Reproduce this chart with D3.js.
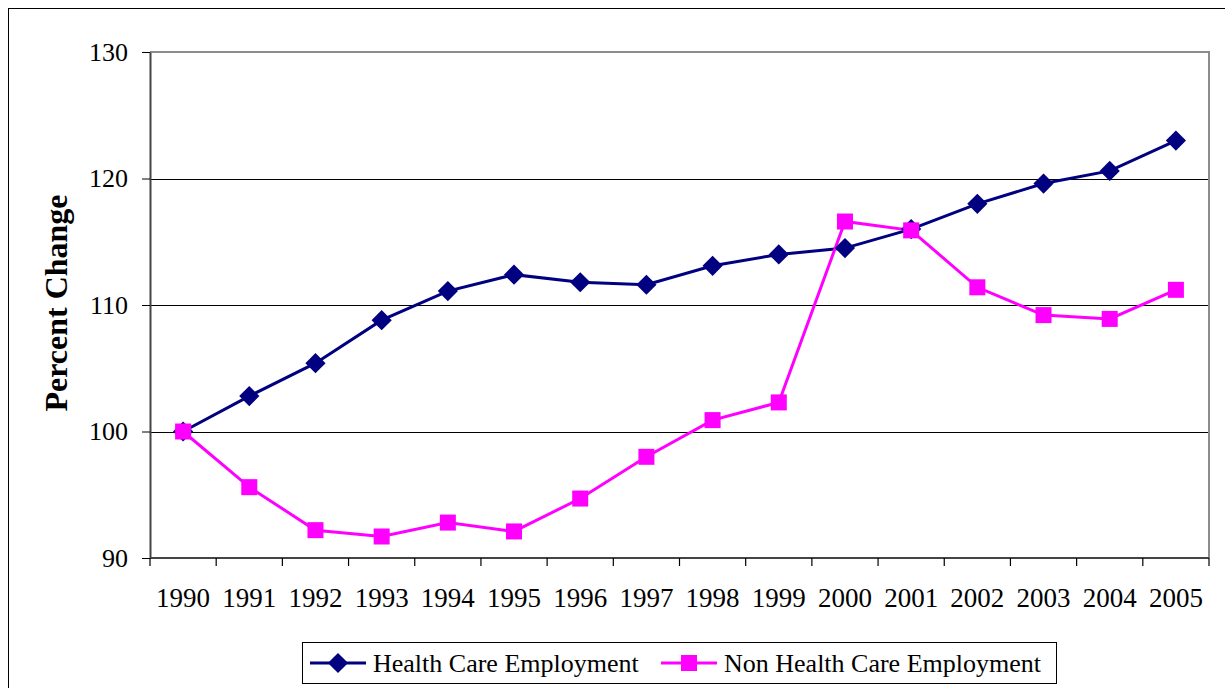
<!DOCTYPE html>
<html>
<head>
<meta charset="utf-8">
<script src="https://cdn.jsdelivr.net/npm/d3@7"></script>
<style>
  body { margin: 0; background: #fff; }
  text { font-family: "Liberation Serif", "Times New Roman", Times, serif; }
</style>
</head>
<body>
<svg id="chart" width="1225" height="688"></svg>
<script>
const years = ['1990', '1991', '1992', '1993', '1994', '1995', '1996', '1997',
  '1998', '1999', '2000', '2001', '2002', '2003', '2004', '2005'];
const healthCare = [100, 102.8, 105.4, 108.8, 111.1, 112.4, 111.8, 111.6,
  113.1, 114.0, 114.5, 116.0, 118.0, 119.6, 120.6, 123.0];
const nonHealthCare = [100, 95.6, 92.2, 91.7, 92.8, 92.1, 94.7, 98.0,
  100.9, 102.3, 116.6, 115.9, 111.4, 109.2, 108.9, 111.2];
const yTicks = [90, 100, 110, 120, 130];
const seriesNames = ['Health Care Employment', 'Non Health Care Employment'];

const FONT = 'Liberation Serif, Times New Roman, serif';
const margin = { top: 52, right: 16, bottom: 130, left: 150 };
const width = 1225 - margin.left - margin.right;
const height = 688 - margin.top - margin.bottom;

const svg = d3.select('#chart');

// outer frame (runs off the right and bottom edges)
svg.append('rect')
  .attr('x', 8.5).attr('y', 8.5)
  .attr('width', 1240).attr('height', 700)
  .attr('fill', 'none').attr('stroke', '#000').attr('stroke-width', 1);

const g = svg.append('g').attr('transform', `translate(${margin.left}, ${margin.top})`);

const x = d3.scaleBand().domain(years).range([0, width]);
const y = d3.scaleLinear().domain([90, 130]).range([height, 0]);

// gridlines
g.append('g')
  .selectAll('line')
  .data(yTicks.filter(d => d > 90 && d < 130))
  .enter()
  .append('line')
  .attr('x1', 0).attr('x2', width)
  .attr('y1', d => Math.round(y(d)) + 0.5).attr('y2', d => Math.round(y(d)) + 0.5)
  .attr('stroke', '#000').attr('stroke-width', 1);

// plot border (top / right gray)
g.append('path')
  .attr('d', `M0,${y(130)}H${width}V${height}`)
  .attr('fill', 'none').attr('stroke', '#8c8c8c').attr('stroke-width', 2);

// y axis
const yAxis = g.append('g')
  .call(d3.axisLeft(y).tickValues(yTicks).tickSize(8).tickPadding(14).tickSizeOuter(0))
  .attr('font-family', FONT);
yAxis.select('.domain').attr('stroke', '#444').attr('stroke-width', 2);
yAxis.selectAll('.tick line').attr('stroke', '#000');
yAxis.selectAll('.tick text').attr('font-size', 26).attr('fill', '#000')
  .attr('font-family', FONT);

// x axis: ticks between categories
const xAxis = g.append('g').attr('transform', `translate(0, ${height})`);
xAxis.append('line')
  .attr('x1', 0).attr('x2', width)
  .attr('stroke', '#444').attr('stroke-width', 2);
xAxis.selectAll('line.tk')
  .data(years.concat(['end']))
  .enter()
  .append('line')
  .attr('class', 'tk')
  .attr('x1', (d, i) => i * x.step()).attr('x2', (d, i) => i * x.step())
  .attr('y1', 0).attr('y2', 8)
  .attr('stroke', '#000').attr('stroke-width', 1.2);
xAxis.selectAll('text')
  .data(years)
  .enter()
  .append('text')
  .attr('x', d => x(d) + x.bandwidth() / 2)
  .attr('y', 49)
  .attr('text-anchor', 'middle')
  .attr('font-family', FONT)
  .attr('font-size', 27)
  .text(d => d);

// y axis title
svg.append('text')
  .attr('transform', 'translate(67, 303) rotate(-90)')
  .attr('text-anchor', 'middle')
  .attr('font-family', FONT)
  .attr('font-size', 32)
  .attr('font-weight', 'bold')
  .text('Percent Change');

const cx = (d, i) => x(years[i]) + x.bandwidth() / 2;
const line = d3.line().x(cx).y(d => y(d));

const diamond = d3.symbol().type(d3.symbolDiamond2).size(260);

// health care series
g.append('path')
  .datum(healthCare)
  .attr('d', line)
  .attr('fill', 'none').attr('stroke', '#000080').attr('stroke-width', 3);

// non health care series
g.append('path')
  .datum(nonHealthCare)
  .attr('d', line)
  .attr('fill', 'none').attr('stroke', '#ff00ff').attr('stroke-width', 3);

g.selectAll('.dia')
  .data(healthCare)
  .enter()
  .append('path')
  .attr('class', 'dia')
  .attr('transform', (d, i) => `translate(${cx(d, i)}, ${y(d)})`)
  .attr('d', diamond)
  .attr('fill', '#000080');

g.selectAll('.sq')
  .data(nonHealthCare)
  .enter()
  .append('rect')
  .attr('class', 'sq')
  .attr('x', (d, i) => cx(d, i) - 8)
  .attr('y', d => y(d) - 8)
  .attr('width', 16).attr('height', 16)
  .attr('fill', '#ff00ff');

// legend
const legend = svg.append('g');
legend.append('rect')
  .attr('x', 302.5).attr('y', 642.5)
  .attr('width', 754).attr('height', 41)
  .attr('fill', '#fff').attr('stroke', '#000').attr('stroke-width', 1);

const legendItems = [
  { name: seriesNames[0], color: '#000080', x0: 310, marker: 'diamond' },
  { name: seriesNames[1], color: '#ff00ff', x0: 661, marker: 'square' }
];
legendItems.forEach(item => {
  const ly = 663;
  legend.append('line')
    .attr('x1', item.x0).attr('x2', item.x0 + 56)
    .attr('y1', ly).attr('y2', ly)
    .attr('stroke', item.color).attr('stroke-width', 3);
  if (item.marker === 'diamond') {
    legend.append('path')
      .attr('transform', `translate(${item.x0 + 28}, ${ly})`)
      .attr('d', diamond)
      .attr('fill', item.color);
  } else {
    legend.append('rect')
      .attr('x', item.x0 + 20).attr('y', ly - 8)
      .attr('width', 16).attr('height', 16)
      .attr('fill', item.color);
  }
  legend.append('text')
    .attr('x', item.x0 + 63)
    .attr('y', ly + 9)
    .attr('font-family', FONT)
    .attr('font-size', 26)
    .text(item.name);
});
</script>
</body>
</html>
